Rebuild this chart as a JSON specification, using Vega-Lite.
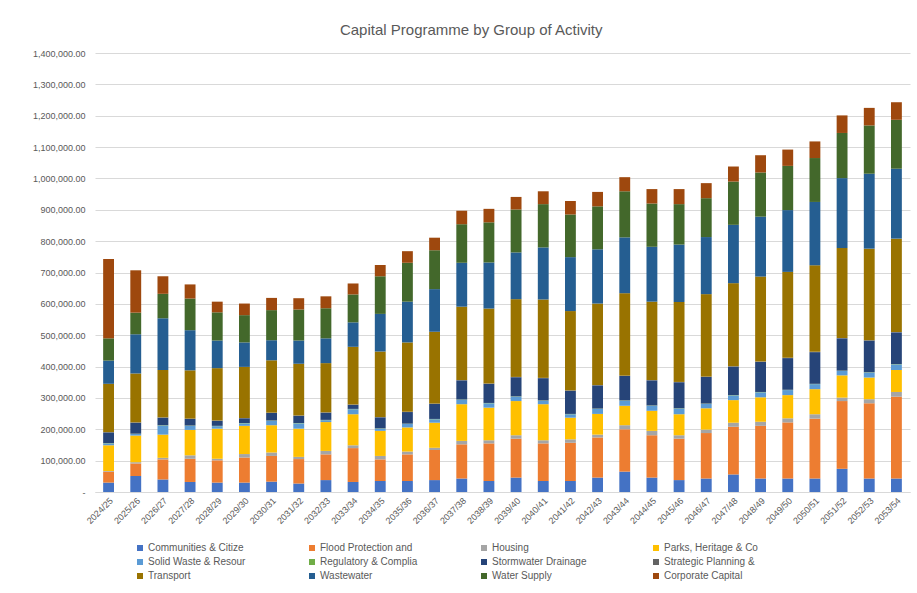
{
  "$schema": "https://vega.github.io/schema/vega-lite/v6.json",
  "autosize": {"type": "none"},
  "width": 815,
  "height": 439,
  "padding": {"left": 95, "top": 53, "right": 7, "bottom": 101},
  "background": "white",
  "title": {
    "text": "Capital Programme by Group of Activity",
    "anchor": "middle",
    "frame": "bounds",
    "fontSize": 15,
    "font": "Liberation Sans",
    "fontWeight": "normal",
    "color": "#595959",
    "offset": 11
  },
  "data": {
    "values": [
      {"year": "2024/25", "Communities & Citize": 30000, "Flood Protection and": 35000, "Housing": 2000, "Parks, Heritage & Co": 82000, "Solid Waste & Resour": 6000, "Regulatory & Complia": 1000, "Stormwater Drainage": 34000, "Strategic Planning &": 1000, "Transport": 154000, "Wastewater": 74000, "Water Supply": 71000, "Corporate Capital": 253000},
      {"year": "2025/26", "Communities & Citize": 51000, "Flood Protection and": 40000, "Housing": 4000, "Parks, Heritage & Co": 85000, "Solid Waste & Resour": 5000, "Regulatory & Complia": 1000, "Stormwater Drainage": 35000, "Strategic Planning &": 1000, "Transport": 156000, "Wastewater": 125000, "Water Supply": 69000, "Corporate Capital": 135000},
      {"year": "2026/27", "Communities & Citize": 40000, "Flood Protection and": 64000, "Housing": 5000, "Parks, Heritage & Co": 74000, "Solid Waste & Resour": 29000, "Regulatory & Complia": 1000, "Stormwater Drainage": 24000, "Strategic Planning &": 1000, "Transport": 151000, "Wastewater": 165000, "Water Supply": 78000, "Corporate Capital": 56000},
      {"year": "2027/28", "Communities & Citize": 32000, "Flood Protection and": 74000, "Housing": 11000, "Parks, Heritage & Co": 81000, "Solid Waste & Resour": 13000, "Regulatory & Complia": 1000, "Stormwater Drainage": 21000, "Strategic Planning &": 1000, "Transport": 154000, "Wastewater": 128000, "Water Supply": 101000, "Corporate Capital": 45000},
      {"year": "2028/29", "Communities & Citize": 30000, "Flood Protection and": 71000, "Housing": 5000, "Parks, Heritage & Co": 96000, "Solid Waste & Resour": 8000, "Regulatory & Complia": 1000, "Stormwater Drainage": 16000, "Strategic Planning &": 1000, "Transport": 167000, "Wastewater": 88000, "Water Supply": 90000, "Corporate Capital": 34000},
      {"year": "2029/30", "Communities & Citize": 30000, "Flood Protection and": 80000, "Housing": 11000, "Parks, Heritage & Co": 90000, "Solid Waste & Resour": 8000, "Regulatory & Complia": 1000, "Stormwater Drainage": 15000, "Strategic Planning &": 1000, "Transport": 163000, "Wastewater": 78000, "Water Supply": 87000, "Corporate Capital": 37000},
      {"year": "2030/31", "Communities & Citize": 33000, "Flood Protection and": 82000, "Housing": 11000, "Parks, Heritage & Co": 87000, "Solid Waste & Resour": 14000, "Regulatory & Complia": 1000, "Stormwater Drainage": 24000, "Strategic Planning &": 1000, "Transport": 167000, "Wastewater": 64000, "Water Supply": 96000, "Corporate Capital": 39000},
      {"year": "2031/32", "Communities & Citize": 27000, "Flood Protection and": 78000, "Housing": 7000, "Parks, Heritage & Co": 90000, "Solid Waste & Resour": 17000, "Regulatory & Complia": 1000, "Stormwater Drainage": 23000, "Strategic Planning &": 1000, "Transport": 165000, "Wastewater": 74000, "Water Supply": 99000, "Corporate Capital": 36000},
      {"year": "2032/33", "Communities & Citize": 38000, "Flood Protection and": 82000, "Housing": 11000, "Parks, Heritage & Co": 92000, "Solid Waste & Resour": 6000, "Regulatory & Complia": 1000, "Stormwater Drainage": 23000, "Strategic Planning &": 1000, "Transport": 157000, "Wastewater": 79000, "Water Supply": 96000, "Corporate Capital": 38000},
      {"year": "2033/34", "Communities & Citize": 32000, "Flood Protection and": 108000, "Housing": 9000, "Parks, Heritage & Co": 99000, "Solid Waste & Resour": 16000, "Regulatory & Complia": 1000, "Stormwater Drainage": 13000, "Strategic Planning &": 1000, "Transport": 184000, "Wastewater": 78000, "Water Supply": 89000, "Corporate Capital": 35000},
      {"year": "2034/35", "Communities & Citize": 35000, "Flood Protection and": 69000, "Housing": 11000, "Parks, Heritage & Co": 80000, "Solid Waste & Resour": 7000, "Regulatory & Complia": 1000, "Stormwater Drainage": 35000, "Strategic Planning &": 1000, "Transport": 209000, "Wastewater": 120000, "Water Supply": 120000, "Corporate Capital": 36000},
      {"year": "2035/36", "Communities & Citize": 35000, "Flood Protection and": 85000, "Housing": 9000, "Parks, Heritage & Co": 77000, "Solid Waste & Resour": 11000, "Regulatory & Complia": 1000, "Stormwater Drainage": 37000, "Strategic Planning &": 1000, "Transport": 221000, "Wastewater": 130000, "Water Supply": 124000, "Corporate Capital": 37000},
      {"year": "2036/37", "Communities & Citize": 38000, "Flood Protection and": 96000, "Housing": 7000, "Parks, Heritage & Co": 80000, "Solid Waste & Resour": 11000, "Regulatory & Complia": 1000, "Stormwater Drainage": 48000, "Strategic Planning &": 1000, "Transport": 229000, "Wastewater": 136000, "Water Supply": 124000, "Corporate Capital": 40000},
      {"year": "2037/38", "Communities & Citize": 43000, "Flood Protection and": 109000, "Housing": 11000, "Parks, Heritage & Co": 117000, "Solid Waste & Resour": 14000, "Regulatory & Complia": 1000, "Stormwater Drainage": 61000, "Strategic Planning &": 1000, "Transport": 234000, "Wastewater": 140000, "Water Supply": 123000, "Corporate Capital": 43000},
      {"year": "2038/39", "Communities & Citize": 35000, "Flood Protection and": 120000, "Housing": 10000, "Parks, Heritage & Co": 104000, "Solid Waste & Resour": 14000, "Regulatory & Complia": 1000, "Stormwater Drainage": 61000, "Strategic Planning &": 1000, "Transport": 239000, "Wastewater": 147000, "Water Supply": 128000, "Corporate Capital": 43000},
      {"year": "2039/40", "Communities & Citize": 46000, "Flood Protection and": 124000, "Housing": 11000, "Parks, Heritage & Co": 109000, "Solid Waste & Resour": 14000, "Regulatory & Complia": 1000, "Stormwater Drainage": 61000, "Strategic Planning &": 1000, "Transport": 248000, "Wastewater": 149000, "Water Supply": 137000, "Corporate Capital": 40000},
      {"year": "2040/41", "Communities & Citize": 35000, "Flood Protection and": 120000, "Housing": 10000, "Parks, Heritage & Co": 115000, "Solid Waste & Resour": 11000, "Regulatory & Complia": 1000, "Stormwater Drainage": 71000, "Strategic Planning &": 1000, "Transport": 250000, "Wastewater": 166000, "Water Supply": 138000, "Corporate Capital": 41000},
      {"year": "2041/42", "Communities & Citize": 35000, "Flood Protection and": 122000, "Housing": 11000, "Parks, Heritage & Co": 69000, "Solid Waste & Resour": 11000, "Regulatory & Complia": 1000, "Stormwater Drainage": 74000, "Strategic Planning &": 1000, "Transport": 253000, "Wastewater": 172000, "Water Supply": 136000, "Corporate Capital": 43000},
      {"year": "2042/43", "Communities & Citize": 46000, "Flood Protection and": 128000, "Housing": 9000, "Parks, Heritage & Co": 66000, "Solid Waste & Resour": 16000, "Regulatory & Complia": 1000, "Stormwater Drainage": 74000, "Strategic Planning &": 1000, "Transport": 260000, "Wastewater": 173000, "Water Supply": 137000, "Corporate Capital": 46000},
      {"year": "2043/44", "Communities & Citize": 65000, "Flood Protection and": 135000, "Housing": 13000, "Parks, Heritage & Co": 62000, "Solid Waste & Resour": 16000, "Regulatory & Complia": 1000, "Stormwater Drainage": 78000, "Strategic Planning &": 1000, "Transport": 263000, "Wastewater": 178000, "Water Supply": 147000, "Corporate Capital": 45000},
      {"year": "2044/45", "Communities & Citize": 46000, "Flood Protection and": 135000, "Housing": 14000, "Parks, Heritage & Co": 64000, "Solid Waste & Resour": 16000, "Regulatory & Complia": 1000, "Stormwater Drainage": 80000, "Strategic Planning &": 1000, "Transport": 250000, "Wastewater": 175000, "Water Supply": 138000, "Corporate Capital": 46000},
      {"year": "2045/46", "Communities & Citize": 38000, "Flood Protection and": 132000, "Housing": 11000, "Parks, Heritage & Co": 67000, "Solid Waste & Resour": 18000, "Regulatory & Complia": 1000, "Stormwater Drainage": 83000, "Strategic Planning &": 1000, "Transport": 255000, "Wastewater": 183000, "Water Supply": 129000, "Corporate Capital": 48000},
      {"year": "2046/47", "Communities & Citize": 43000, "Flood Protection and": 145000, "Housing": 11000, "Parks, Heritage & Co": 68000, "Solid Waste & Resour": 14000, "Regulatory & Complia": 1000, "Stormwater Drainage": 85000, "Strategic Planning &": 1000, "Transport": 263000, "Wastewater": 182000, "Water Supply": 124000, "Corporate Capital": 48000},
      {"year": "2047/48", "Communities & Citize": 56000, "Flood Protection and": 152000, "Housing": 13000, "Parks, Heritage & Co": 72000, "Solid Waste & Resour": 15000, "Regulatory & Complia": 1000, "Stormwater Drainage": 91000, "Strategic Planning &": 1000, "Transport": 265000, "Wastewater": 186000, "Water Supply": 138000, "Corporate Capital": 48000},
      {"year": "2048/49", "Communities & Citize": 43000, "Flood Protection and": 168000, "Housing": 13000, "Parks, Heritage & Co": 78000, "Solid Waste & Resour": 16000, "Regulatory & Complia": 1000, "Stormwater Drainage": 96000, "Strategic Planning &": 1000, "Transport": 271000, "Wastewater": 191000, "Water Supply": 141000, "Corporate Capital": 55000},
      {"year": "2049/50", "Communities & Citize": 43000, "Flood Protection and": 179000, "Housing": 13000, "Parks, Heritage & Co": 74000, "Solid Waste & Resour": 16000, "Regulatory & Complia": 1000, "Stormwater Drainage": 101000, "Strategic Planning &": 1000, "Transport": 274000, "Wastewater": 197000, "Water Supply": 141000, "Corporate Capital": 52000},
      {"year": "2050/51", "Communities & Citize": 43000, "Flood Protection and": 191000, "Housing": 14000, "Parks, Heritage & Co": 80000, "Solid Waste & Resour": 16000, "Regulatory & Complia": 1000, "Stormwater Drainage": 101000, "Strategic Planning &": 1000, "Transport": 276000, "Wastewater": 202000, "Water Supply": 140000, "Corporate Capital": 53000},
      {"year": "2051/52", "Communities & Citize": 74000, "Flood Protection and": 216000, "Housing": 11000, "Parks, Heritage & Co": 71000, "Solid Waste & Resour": 14000, "Regulatory & Complia": 1000, "Stormwater Drainage": 103000, "Strategic Planning &": 1000, "Transport": 287000, "Wastewater": 223000, "Water Supply": 144000, "Corporate Capital": 56000},
      {"year": "2052/53", "Communities & Citize": 43000, "Flood Protection and": 240000, "Housing": 13000, "Parks, Heritage & Co": 69000, "Solid Waste & Resour": 16000, "Regulatory & Complia": 1000, "Stormwater Drainage": 101000, "Strategic Planning &": 1000, "Transport": 292000, "Wastewater": 239000, "Water Supply": 154000, "Corporate Capital": 56000},
      {"year": "2053/54", "Communities & Citize": 43000, "Flood Protection and": 261000, "Housing": 15000, "Parks, Heritage & Co": 70000, "Solid Waste & Resour": 18000, "Regulatory & Complia": 1000, "Stormwater Drainage": 101000, "Strategic Planning &": 1000, "Transport": 298000, "Wastewater": 223000, "Water Supply": 156000, "Corporate Capital": 56000}
    ]
  },
  "transform": [
    {"fold": ["Communities & Citize", "Flood Protection and", "Housing", "Parks, Heritage & Co", "Solid Waste & Resour", "Regulatory & Complia", "Stormwater Drainage", "Strategic Planning &", "Transport", "Wastewater", "Water Supply", "Corporate Capital"], "as": ["group", "amount"]},
    {"calculate": "indexof(['Communities & Citize', 'Flood Protection and', 'Housing', 'Parks, Heritage & Co', 'Solid Waste & Resour', 'Regulatory & Complia', 'Stormwater Drainage', 'Strategic Planning &', 'Transport', 'Wastewater', 'Water Supply', 'Corporate Capital'], datum.group)", "as": "stackIndex"}
  ],
  "mark": {"type": "bar", "strokeWidth": 0},
  "encoding": {
    "x": {
      "field": "year",
      "type": "ordinal",
      "sort": null,
      "scale": {"paddingInner": 0.6, "paddingOuter": 0.3},
      "axis": {
        "title": null,
        "labelAngle": -45,
        "labelFont": "Liberation Sans",
        "labelFontSize": 9,
        "labelColor": "#595959",
        "ticks": false,
        "domainColor": "#D9D9D9",
        "labelPadding": 4
      }
    },
    "y": {
      "field": "amount",
      "type": "quantitative",
      "stack": "zero",
      "scale": {"domain": [0, 1400000], "nice": false},
      "axis": {
        "title": null,
        "values": [0, 100000, 200000, 300000, 400000, 500000, 600000, 700000, 800000, 900000, 1000000, 1100000, 1200000, 1300000, 1400000],
        "labelExpr": "datum.value == 0 ? '-\u00a0\u00a0\u00a0\u00a0\u00a0' : format(datum.value, ',.2f')",
        "labelFont": "Liberation Sans",
        "labelFontSize": 9,
        "labelColor": "#595959",
        "ticks": false,
        "domain": false,
        "gridColor": "#D9D9D9",
        "labelPadding": 10
      }
    },
    "color": {
      "field": "group",
      "type": "nominal",
      "scale": {
        "domain": ["Communities & Citize", "Flood Protection and", "Housing", "Parks, Heritage & Co", "Solid Waste & Resour", "Regulatory & Complia", "Stormwater Drainage", "Strategic Planning &", "Transport", "Wastewater", "Water Supply", "Corporate Capital"],
        "range": ["#4472C4", "#ED7D31", "#A5A5A5", "#FFC000", "#5B9BD5", "#70AD47", "#264478", "#636363", "#997300", "#255E91", "#43682B", "#9E480E"]
      },
      "legend": {
        "title": null,
        "orient": "none",
        "legendX": 40,
        "legendY": 490,
        "columns": 4,
        "direction": "horizontal",
        "gridAlign": "all",
        "columnPadding": 61,
        "rowPadding": 4,
        "symbolType": "square",
        "symbolSize": 36,
        "symbolStrokeWidth": 0,
        "labelFont": "Liberation Sans",
        "labelFontSize": 10,
        "labelColor": "#595959",
        "labelOffset": 3,
        "padding": 0
      }
    },
    "order": {"field": "stackIndex", "type": "quantitative", "sort": "ascending"}
  },
  "config": {"view": {"stroke": null}}
}
